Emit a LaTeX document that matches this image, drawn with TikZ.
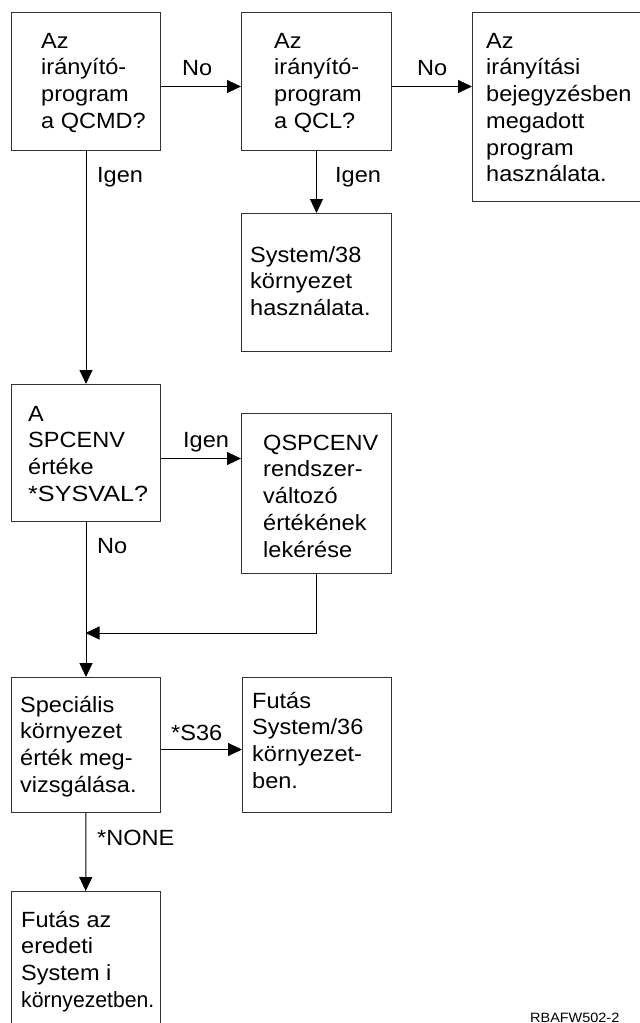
\documentclass[tikz,border=0pt]{standalone}
\usepackage{fontspec}
\usepackage{graphicx}
\setmainfont[FakeStretch=1.07]{Liberation Sans}
\usetikzlibrary{arrows.meta}
\definecolor{boxc}{HTML}{333333}
\newcommand{\firstln}{\rule{0pt}{20pt}}
\tikzset{
 box/.style={draw=boxc, line width=1pt, rectangle, inner sep=0pt, anchor=north west},
 openbox/.style={draw=none, rectangle, inner sep=0pt, anchor=north west},
 boxline/.style={draw=boxc, line width=1pt},
 txt/.style={anchor=north west, inner sep=0pt, align=left, font=\fontsize{22}{26.7}\selectfont, text=black},
 lbl/.style={anchor=base west, inner sep=0pt, font=\fontsize{22}{26.7}\selectfont, text=black},
 arr/.style={line width=1pt, draw=black, -{Triangle[length=14pt,width=13pt]}},
}
\begin{document}
\begin{tikzpicture}[x=1pt,y=-1pt]
\useasboundingbox (0,0) rectangle (640,1023);

% boxes
\node[box, minimum width=149pt, minimum height=138pt] (b1) at (11,12) {};
\node[box, minimum width=150pt, minimum height=138pt] (b2) at (241,12) {};
\node[openbox, minimum width=168pt, minimum height=189pt] (b3) at (472,12) {};
\draw[boxline] (b3.north east) -- (b3.north west) -- (b3.south west) -- (b3.south east);
\node[box, minimum width=150pt, minimum height=138pt] (b4) at (241,213) {};
\node[box, minimum width=149pt, minimum height=137pt] (b5) at (11,384) {};
\node[box, minimum width=150pt, minimum height=160pt] (b6) at (241,413) {};
\node[box, minimum width=149pt, minimum height=135pt] (b7) at (11,677) {};
\node[box, minimum width=149pt, minimum height=135pt] (b8) at (242,677) {};
\node[openbox, minimum width=149pt, minimum height=133pt] (b9) at (11,891) {};
\draw[boxline] (b9.south west) -- (b9.north west) -- (b9.north east) -- (b9.south east);

% texts
\node[txt] (t1) at (41,28) {\firstln Az\\irányító-\\program\\a QCMD?};
\node[txt] (t2) at (274,28) {\firstln Az\\irányító-\\program\\a QCL?};
\node[txt] (t3) at (486,28) {\firstln Az\\irányítási\\bejegyzésben\\megadott\\program\\használata.};
\node[txt] (t4) at (250,242) {\firstln System/38\\környezet\\használata.};
\node[txt] (t5) at (28,401) {\firstln A\\SPCENV\\értéke\\\scalebox{1.07}[1]{*SYSVAL?}};
\node[txt] (t6) at (263,430) {\firstln QSPCENV\\rendszer-\\változó\\értékének\\lekérése};
\node[txt] (t7) at (20,692) {\firstln Speciális\\környezet\\érték meg-\\vizsgálása.};
\node[txt] (t8) at (252,688) {\firstln Futás\\System/36\\környezet-\\ben.};
\node[txt] (t9) at (21,907) {\firstln Futás az\\eredeti\\System i\\\scalebox{0.9}[1]{környezetben.}};

% connectors
\coordinate (j) at (85.5,633);
\draw[arr] ([yshift=-5pt]b1.east) -- ([yshift=-5pt]b1.east -| b2.west);
\draw[arr] ([yshift=-5pt]b2.east) -- ([yshift=-5pt]b2.east -| b3.west);
\draw[arr] (b2.south) -- (b4.north);
\draw[arr] (b1.south) -- (b5.north);
\draw[arr] ([yshift=-5.5pt]b5.east) -- ([yshift=-5.5pt]b5.east -| b6.west);
\draw[arr] (b6.south) |- (j);
\draw[arr] (b5.south) -- (b7.north);
\draw[arr] ([yshift=-4.5pt]b7.east) -- ([yshift=-4.5pt]b7.east -| b8.west);
\draw[arr] (b7.south) -- (b9.north);

% labels
\node[lbl] (l1) at (182,75) {No};
\node[lbl] (l2) at (417,75) {No};
\node[lbl] (l3) at (97,182) {Igen};
\node[lbl] (l4) at (335,182) {Igen};
\node[lbl] (l5) at (183,447) {Igen};
\node[lbl] (l6) at (97,553) {No};
\node[lbl] (l7) at (171,740) {*S36};
\node[lbl] (l8) at (97,845) {*NONE};

\node[anchor=base west, inner sep=0pt, font=\fontsize{13.5}{16}\selectfont, text=black] (fig) at (530,1022) {RBAFW502-2};
\end{tikzpicture}
\end{document}
